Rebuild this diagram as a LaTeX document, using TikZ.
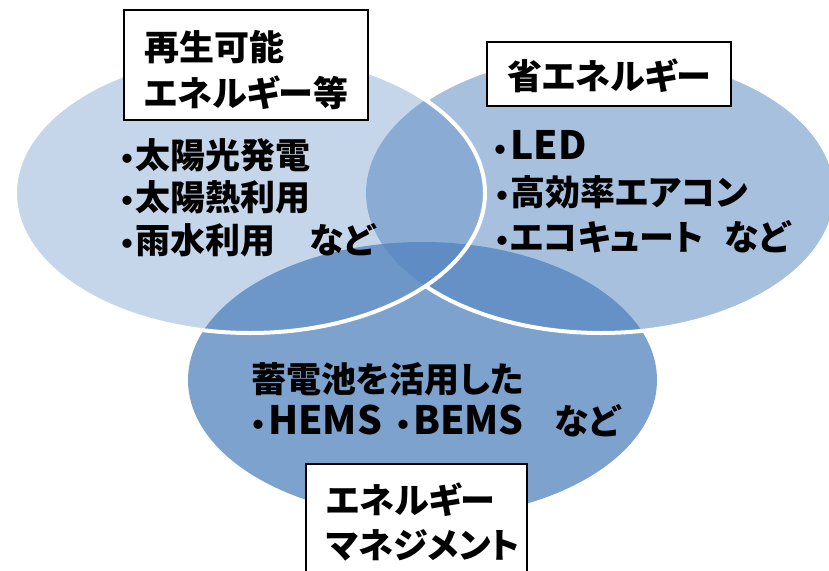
\documentclass[tikz,border=0pt]{standalone}
\usepackage{fontspec}
\setmainfont{Noto Sans CJK JP}[RawFeature=+palt]
\newcommand\bul{\makebox[16pt][c]{\fontsize{44}{44}\selectfont\raisebox{-7pt}{･}}}
\newcommand\la[1]{{\fontsize{39}{40}\selectfont #1}}
\definecolor{acc}{HTML}{4F81BD}
\begin{document}
\begin{tikzpicture}[x=1pt,y=-1pt,
  txt/.style={anchor=west, inner sep=0pt, font=\fontsize{35}{40}\selectfont\bfseries, text=black},
  labelbox/.style={draw=black, line width=1.5pt, fill=white, inner sep=0pt},
  ring/.style={white, line width=4pt}]
\useasboundingbox (0,0) rectangle (829,570);
\clip (0,0) rectangle (829,570);
% ellipses
\fill[acc, fill opacity=0.74] (422.5,380) ellipse [x radius=234.5pt, y radius=138pt];
\fill[acc, fill opacity=0.5] (601,193) ellipse [x radius=235pt, y radius=140pt];
\begin{scope}[even odd rule]
  \clip (-10,-10) rectangle (850,600) (250,193) ellipse [x radius=235pt, y radius=140pt];
  \draw[ring] (601,193) ellipse [x radius=235pt, y radius=140pt];
\end{scope}
\fill[acc, fill opacity=0.32] (250,193) ellipse [x radius=235pt, y radius=140pt];
\draw[ring] (250,193) ellipse [x radius=235pt, y radius=140pt];
% boxes
\node[labelbox, minimum width=244pt, minimum height=110pt] (renewbox) at (246,65) {};
\node[txt] (renew1) at (144,47) {再生可能};
\node[txt] (renew2) at (144,93) {エネルギー等};
\node[labelbox, minimum width=244pt, minimum height=64pt] (savebox) at (609,74) {};
\node[txt] (save1) at (507,76) {省エネルギー};
\node[labelbox, minimum width=221pt, minimum height=136pt] (mgmtbox) at (416.5,532) {};
\node[txt] (mgmt1) at (326,500) {エネルギー};
\node[txt] (mgmt2) at (326,545) {マネジメント};
% lists
\node[txt] (l1) at (119,157) {\bul 太陽光発電};
\node[txt] (l2) at (119,199) {\bul 太陽熱利用};
\node[txt] (l3) at (119,242) {\bul 雨水利用\hspace{34pt}など};
\node[txt] (r1) at (492,148) {\bul\hspace{2pt}\la{LED}};
\node[txt] (r2) at (494,194) {\bul 高効率エアコン};
\node[txt] (r3) at (494,239) {\bul エコキュート\hspace{21pt}など};
\node[txt] (b1) at (251,379) {蓄電池を活用した};
\node[txt] (b2) at (250,423) {\bul\hspace{2pt}\la{HEMS}\hspace{13pt}\bul\hspace{2pt}\la{BEMS}\hspace{31pt}など};
\end{tikzpicture}
\end{document}
